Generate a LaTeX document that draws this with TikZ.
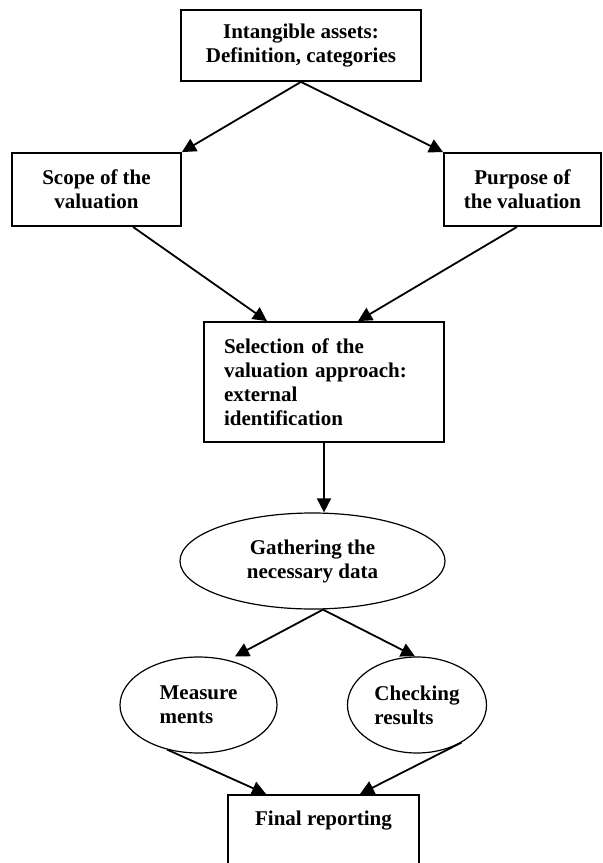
\documentclass[tikz,border=0pt]{standalone}
\usepackage{fontspec}
\setmainfont{Liberation Serif}
\usetikzlibrary{arrows.meta,shapes.geometric}
\begin{document}
\begin{tikzpicture}[x=1pt,y=-1pt,
  every node/.style={font=\fontsize{21}{24}\selectfont\bfseries},
  boxnode/.style={draw,line width=1.8pt,rectangle,inner sep=0pt,align=center},
  ovalnode/.style={draw,line width=1.2pt,ellipse,inner sep=0pt},
  arr/.style={line width=1.8pt,-{Triangle[length=14pt,width=14pt]}}]
\clip (0,0) rectangle (603,863);
\fill[white] (0,0) rectangle (603,863);
\node[boxnode,minimum width=240pt,minimum height=71pt] (top) at (301,45.5) {Intangible assets:\\Definition, categories};
\node[boxnode,minimum width=169pt,minimum height=73pt] (scope) at (96.5,189.5) {Scope of the\\valuation};
\node[boxnode,minimum width=157pt,minimum height=73pt] (purpose) at (522.5,189.5) {Purpose of\\the valuation};
\node[boxnode,minimum width=240pt,minimum height=120pt,text width=200pt,inner xsep=20pt,align=left] (select) at (324,382) {Selection of the\\valuation approach:\\external\\identification};
\node[ovalnode,minimum width=265pt,minimum height=96pt,align=center] (gather) at (312.5,561) {Gathering the\\necessary data};
\node[ovalnode,minimum width=157pt,minimum height=96pt,align=left] (measure) at (198.5,705) {Measure\\ments};
\node[ovalnode,minimum width=139pt,minimum height=96pt,align=left] (check) at (417,705) {Checking\\results};
\node[boxnode,anchor=north,minimum width=191pt,text height=25pt,text depth=80pt,inner ysep=6pt] (final) at (323.5,794) {Final reporting};
\draw[arr] (top.south) -- (scope.north east);
\draw[arr] (top.south) -- (purpose.north west);
\draw[arr] ([xshift=36.5pt]scope.south) -- ([xshift=-57pt]select.north);
\draw[arr] ([xshift=-5.5pt]purpose.south) -- ([xshift=34pt]select.north);
\draw[arr] (select.south) -- (select.south |- gather.north);
\draw[arr] ([xshift=10.5pt]gather.south) -- ([xshift=36.5pt]measure.north);
\draw[arr] ([xshift=10.5pt]gather.south) -- ([xshift=-2pt]check.north);
\draw[arr] (measure.235) -- ([xshift=-57.5pt]final.north);
\draw[arr] (check.320) -- ([xshift=36.5pt]final.north);
\end{tikzpicture}
\end{document}
